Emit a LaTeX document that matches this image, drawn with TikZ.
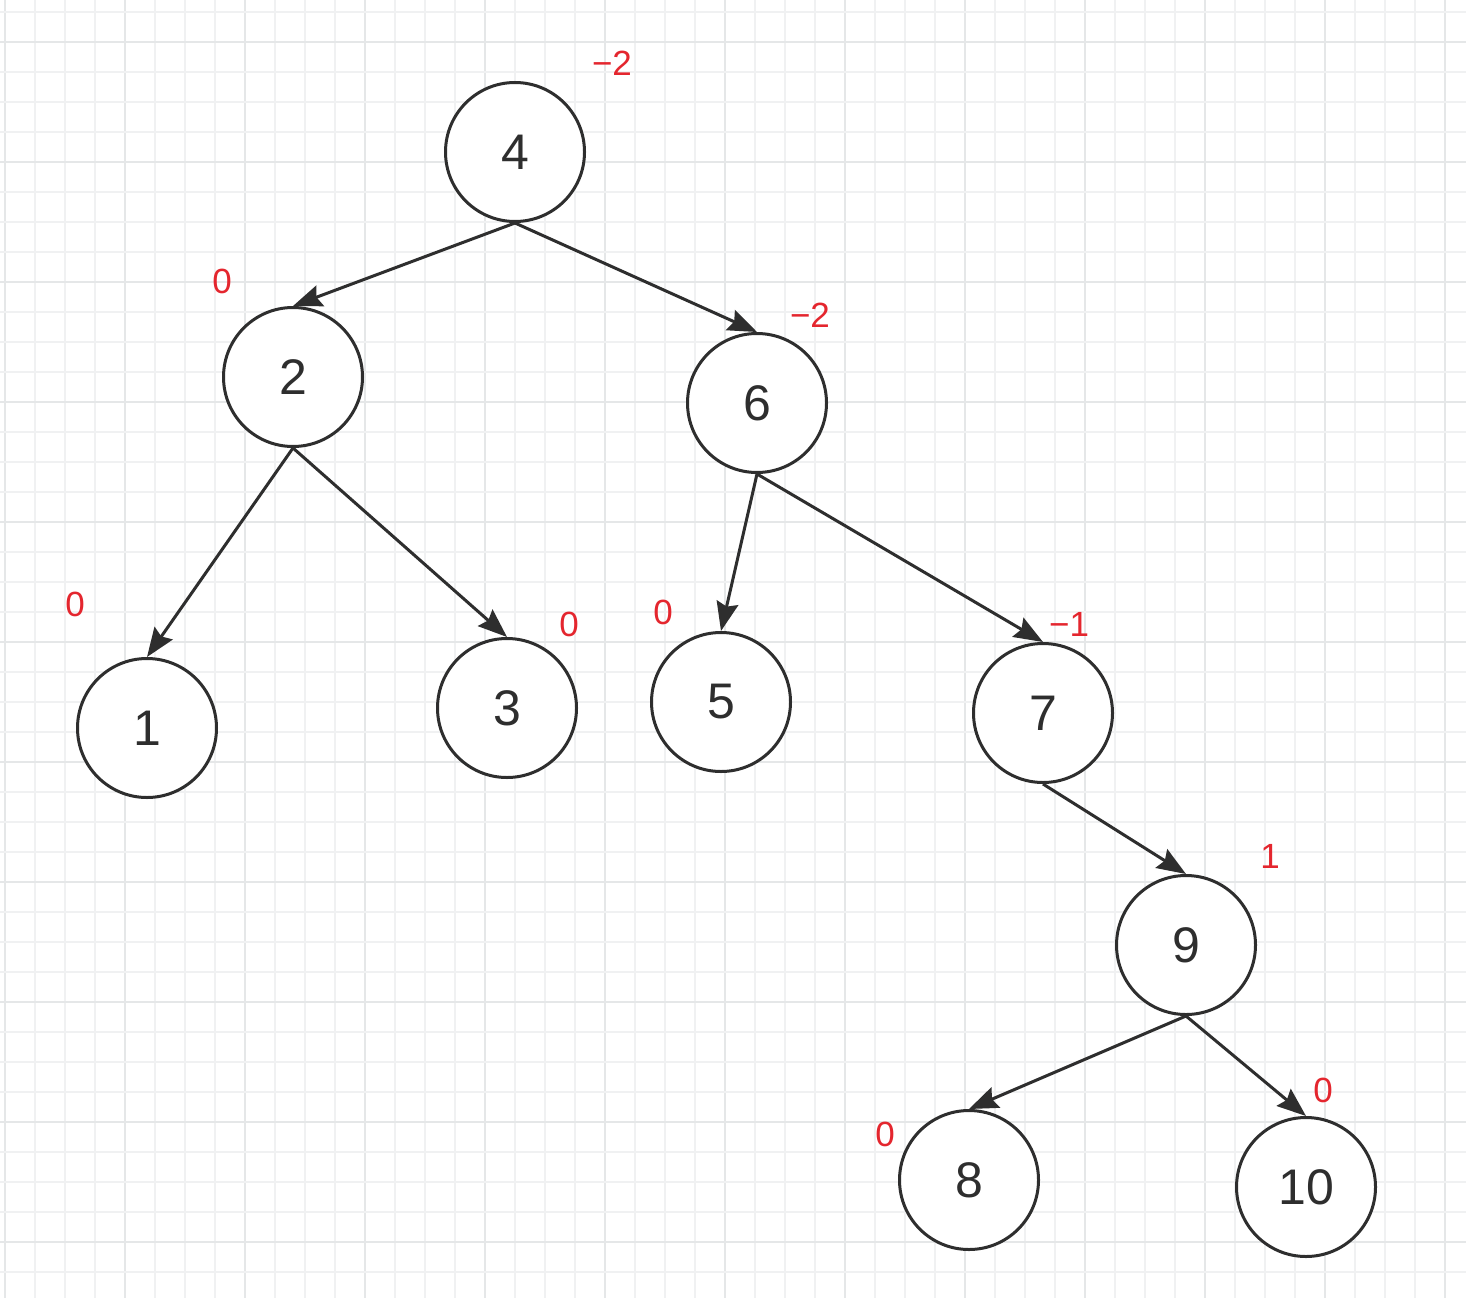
\documentclass[tikz,border=0pt]{standalone}
\usepackage{fontspec}
\setmainfont{Liberation Sans}
\usetikzlibrary{arrows.meta}
\definecolor{gridminor}{HTML}{F0F1F2}
\definecolor{gridmajor}{HTML}{E5E7E8}
\definecolor{ink}{HTML}{2E2E2E}
\definecolor{bf}{HTML}{E4262E}
\tikzset{
  tnode/.style={circle, draw=ink, line width=3pt, fill=white, minimum size=139pt, inner sep=0pt, text=ink, font=\fontsize{50}{50}\selectfont},
  edge/.style={draw=ink, line width=3pt, -{Stealth[length=29pt,width=22pt,inset=4pt]}},
  bal/.style={text=bf, font=\fontsize{35}{35}\selectfont, inner sep=0pt}
}
\begin{document}
\begin{tikzpicture}[x=1pt,y=-1pt]
\useasboundingbox (0,0) rectangle (1466,1298);
\fill[white] (0,0) rectangle (1466,1298);
% grid
\foreach \k in {0,...,48} {
  \pgfmathsetmacro{\xx}{5+30*\k}
  \pgfmathtruncatemacro{\m}{mod(\k,4)}
  \ifnum\m=0
    \draw[gridmajor, line width=1.5pt] (\xx,0) -- (\xx,1298);
  \else
    \draw[gridminor, line width=1.3pt] (\xx,0) -- (\xx,1298);
  \fi
}
\foreach \k in {0,...,43} {
  \pgfmathsetmacro{\yy}{12+30*\k}
  \pgfmathtruncatemacro{\m}{mod(\k,4)}
  \ifnum\m=1
    \draw[gridmajor, line width=1.5pt] (0,\yy) -- (1466,\yy);
  \else
    \draw[gridminor, line width=1.3pt] (0,\yy) -- (1466,\yy);
  \fi
}
% nodes
\node[tnode] (n4) at (515,152) {4};
\node[tnode] (n2) at (293,377) {2};
\node[tnode] (n6) at (757,403) {6};
\node[tnode] (n1) at (147,728) {1};
\node[tnode] (n3) at (507,708) {3};
\node[tnode] (n5) at (721,702) {5};
\node[tnode] (n7) at (1043,713) {7};
\node[tnode] (n9) at (1186,945) {9};
\node[tnode] (n8) at (969,1180) {8};
\node[tnode] (n10) at (1306,1187) {10};
% edges
\draw[edge] (n4.south) -- (n2.north);
\draw[edge] (n4.south) -- (n6.north);
\draw[edge] (n2.south) -- (n1.north);
\draw[edge] (n2.south) -- (n3.north);
\draw[edge] (n6.south) -- (n5.north);
\draw[edge] (n6.south) -- (n7.north);
\draw[edge] (n7.south) -- (n9.north);
\draw[edge] (n9.south) -- (n8.north);
\draw[edge] (n9.south) -- (n10.north);
% balance factors
\node[bal] (b4) at (612,63) {−2};
\node[bal] (b2) at (222,281) {0};
\node[bal] (b6) at (810,315) {−2};
\node[bal] (b1) at (75,604) {0};
\node[bal] (b3) at (569,624) {0};
\node[bal] (b5) at (663,612) {0};
\node[bal] (b7) at (1069,624) {−1};
\node[bal] (b9) at (1270,856) {1};
\node[bal] (b10) at (1323,1090) {0};
\node[bal] (b8) at (885,1134) {0};
\end{tikzpicture}
\end{document}
